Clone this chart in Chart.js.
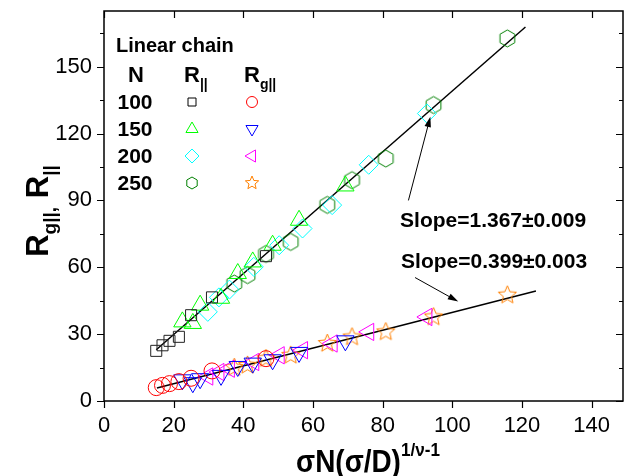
<!DOCTYPE html>
<html>
<head>
<meta charset="utf-8">
<script src="https://cdn.jsdelivr.net/npm/chart.js@4.4.1/dist/chart.umd.min.js"></script>
<style>
  html, body { margin: 0; padding: 0; background: #fff; }
  #wrap { width: 634px; height: 476px; }
</style>
</head>
<body>
<div id="wrap"><canvas id="chart" width="634" height="476"></canvas></div>
<script>
// tick labels
const xTicks = [0, 20, 40, 60, 80, 100, 120, 140];
const yTicks = [0, 30, 60, 90, 120, 150];
const chainN = ['100', '150', '200', '250'];

// x values per chain length N
const x100 = [15, 16.8, 18.8, 21.5, 25, 31, 46.5];
const x150 = [22.5, 25.5, 27.6, 33.6, 38.4, 42.7, 48.4, 56, 69.3];
const x200 = [29.8, 33, 36, 43, 50.3, 57, 65.5, 76, 92.7];
const x250 = [37.4, 41.2, 46.5, 53.6, 64.1, 71.2, 80.9, 94.6, 115.8];

// R|| values
const rPar100 = [22.5, 25, 27, 28.8, 38.5, 46.5, 65];
const rPar150 = [35.5, 34.8, 43, 46.1, 57.2, 62.4, 69.9, 81.1, 96.5];
const rPar200 = [40, 46.5, 50, 60.2, 69.9, 77.4, 87.9, 106, 129];
const rPar250 = [52.7, 56.5, 66, 71.4, 88, 99.1, 108.8, 132.8, 162.7];

// Rg|| values
const rg100 = [6.0, 7.0, 7.8, 8.7, 10.2, 13.5, 19];
const rg150 = [9.5, 8.2, 10, 11.5, 15.5, 17, 18.5, 21.8, 27];
const rg200 = [11, 13, 14.5, 17.5, 20.5, 22.8, 25.8, 31, 37.7];
const rg250 = [15, 16, 19, 20.5, 25.8, 28.7, 31, 37.7, 47.5];

// linear fits, end points
const fitParX = [15, 121];
const fitParY = [23, 167.8];
const fitGX = [15.2, 124];
const fitGY = [5.8, 49.4];
const slopeTexts = ['Slope=1.367\u00B10.009', 'Slope=0.399\u00B10.003'];
const slopeAt = [[111.7, 80.8], [112, 62.4]];
const arrows = [[[87.4, 90], [93.7, 127.6]], [[89.3, 55.4], [101.7, 44.6]]];

function pts(xs, ys) { return xs.map((x, i) => ({ x: x, y: ys[i] })); }

function shapeCanvas(kind, r, color) {
  const c = document.createElement('canvas');
  const s = Math.ceil(r * 2 + 4);
  c.width = s; c.height = s;
  const g = c.getContext('2d');
  g.strokeStyle = color;
  g.lineWidth = 1;
  pathShape(g, kind, s / 2, s / 2, r);
  g.stroke();
  return c;
}

function pathShape(g, kind, cx, cy, r) {
  g.beginPath();
  if (kind === 'hex') {
    for (let i = 0; i < 6; i++) {
      const a = Math.PI / 3 * i;
      const px = cx + Math.sin(a) * r, py = cy - Math.cos(a) * r;
      i ? g.lineTo(px, py) : g.moveTo(px, py);
    }
  } else if (kind === 'star') {
    for (let i = 0; i < 10; i++) {
      const a = Math.PI / 5 * i;
      const rr = i % 2 ? r * 0.45 : r;
      const px = cx + Math.sin(a) * rr, py = cy - Math.cos(a) * rr;
      i ? g.lineTo(px, py) : g.moveTo(px, py);
    }
  }
  g.closePath();
}

const hexImg = shapeCanvas('hex', 8.5, '#008000');
const starImg = shapeCanvas('star', 9.5, '#ff8000');

function ds(data, color, style, r, rot) {
  return {
    type: 'scatter', data: data, borderColor: color, backgroundColor: 'rgba(0,0,0,0)',
    pointStyle: style, pointRadius: r, pointRotation: rot || 0, pointBorderWidth: 1,
    pointHoverRadius: r
  };
}

function lineDs(xs, ys) {
  return {
    type: 'line', data: pts(xs, ys), borderColor: '#000', borderWidth: 1.5,
    pointRadius: 0, showLine: true, fill: false
  };
}

// legend, annotations, axis titles and frame
function runs(ctx, x, y, list, align) {
  let w = 0;
  list.forEach(r => { ctx.font = r.f; w += ctx.measureText(r.t).width; });
  let cx = align === 'center' ? x - w / 2 : x;
  list.forEach(r => {
    ctx.font = r.f;
    ctx.fillText(r.t, cx, y + (r.dy || 0));
    cx += ctx.measureText(r.t).width;
  });
}

function legendMark(ctx, kind, x, y, color) {
  ctx.save();
  ctx.strokeStyle = color;
  ctx.lineWidth = 1;
  ctx.beginPath();
  if (kind === 'sq') ctx.rect(x - 4, y - 4, 8, 8);
  else if (kind === 'circ') ctx.arc(x, y, 5.5, 0, Math.PI * 2);
  else if (kind === 'dia') { ctx.moveTo(x, y - 7); ctx.lineTo(x + 7, y); ctx.lineTo(x, y + 7); ctx.lineTo(x - 7, y); ctx.closePath(); }
  else if (kind === 'up' || kind === 'down' || kind === 'left') {
    const rot = { up: 0, down: Math.PI, left: -Math.PI / 2 }[kind];
    for (let i = 0; i < 3; i++) {
      const a = rot + i * 2 * Math.PI / 3;
      const px = x + Math.sin(a) * 7, py = y - Math.cos(a) * 7;
      i ? ctx.lineTo(px, py) : ctx.moveTo(px, py);
    }
    ctx.closePath();
  } else if (kind === 'hex' || kind === 'star') {
    pathShape(ctx, kind, x, y, kind === 'hex' ? 6 : 7);
  }
  ctx.stroke();
  ctx.restore();
}

const FONT = '"Liberation Sans", Arial, sans-serif';

const decor = {
  id: 'decor',
  afterDraw(chart) {
    const ctx = chart.ctx;
    const a = chart.chartArea;
    const xs = chart.scales.x, ys = chart.scales.y;
    ctx.save();
    // frame
    ctx.strokeStyle = '#000';
    ctx.lineWidth = 1.5;
    ctx.strokeRect(a.left, a.top, a.right - a.left, a.bottom - a.top);
    ctx.lineWidth = 1.2;
    ctx.beginPath();
    for (let v = 0; v <= ys.max; v += 15) {
      const p = Math.round(ys.getPixelForValue(v)) + 0.5;
      const len = v % 30 === 0 ? 7 : 4;
      ctx.moveTo(a.left, p); ctx.lineTo(a.left - len, p);
      ctx.moveTo(a.right, p); ctx.lineTo(a.right - len, p);
    }
    xTicks.forEach(v => {
      const p = Math.round(xs.getPixelForValue(v)) + 0.5;
      ctx.moveTo(p, a.bottom); ctx.lineTo(p, a.bottom + 7);
      ctx.moveTo(p, a.top); ctx.lineTo(p, a.top + 7);
    });
    ctx.stroke();

    // arrows
    ctx.fillStyle = '#000';
    ctx.lineWidth = 1;
    arrows.forEach(ar => {
      const x0 = xs.getPixelForValue(ar[0][0]), y0 = ys.getPixelForValue(ar[0][1]);
      const x1 = xs.getPixelForValue(ar[1][0]), y1 = ys.getPixelForValue(ar[1][1]);
      const ang = Math.atan2(y1 - y0, x1 - x0);
      ctx.beginPath();
      ctx.moveTo(x0, y0); ctx.lineTo(x1 - Math.cos(ang) * 8, y1 - Math.sin(ang) * 8);
      ctx.stroke();
      ctx.beginPath();
      ctx.moveTo(x1, y1);
      ctx.lineTo(x1 - Math.cos(ang - 0.3) * 11, y1 - Math.sin(ang - 0.3) * 11);
      ctx.lineTo(x1 - Math.cos(ang + 0.3) * 11, y1 - Math.sin(ang + 0.3) * 11);
      ctx.closePath();
      ctx.fill();
    });

    // slope texts
    ctx.textBaseline = 'middle';
    ctx.textAlign = 'center';
    ctx.font = 'bold 21px ' + FONT;
    slopeTexts.forEach((t, i) => {
      ctx.fillText(t, xs.getPixelForValue(slopeAt[i][0]), ys.getPixelForValue(slopeAt[i][1]));
    });

    // legend
    const B = 'bold 20px ' + FONT;
    const BL = 'bold 22px ' + FONT;
    const BS = 'bold 14px ' + FONT;
    ctx.textAlign = 'left';
    ctx.font = B;
    ctx.fillText('Linear chain', 116, 46);
    ctx.textAlign = 'center';
    ctx.font = BL;
    ctx.fillText('N', 136, 76);
    ctx.textAlign = 'left';
    runs(ctx, 184, 76, [{ t: 'R', f: BL }, { t: '||', f: BS, dy: 9 }], 'left');
    runs(ctx, 244, 76, [{ t: 'R', f: BL }, { t: 'g||', f: BS, dy: 9 }], 'left');
    const rowsY = [102, 129, 156, 183];
    const leftKinds = [['sq', '#000'], ['up', '#00ff00'], ['dia', '#00ffff'], ['hex', '#008000']];
    const rightKinds = [['circ', '#ff0000'], ['down', '#0000ff'], ['left', '#ff00ff'], ['star', '#ff8000']];
    chainN.forEach((n, i) => {
      ctx.textAlign = 'center';
      ctx.font = 'bold 21px ' + FONT;
      ctx.fillStyle = '#000';
      ctx.fillText(n, 135, rowsY[i] + 1);
      legendMark(ctx, leftKinds[i][0], 192, rowsY[i], leftKinds[i][1]);
      legendMark(ctx, rightKinds[i][0], 252, rowsY[i], rightKinds[i][1]);
    });

    // axis titles
    ctx.fillStyle = '#000';
    ctx.textAlign = 'left';
    ctx.textBaseline = 'alphabetic';
    const T = 'bold 31px ' + FONT;
    const TS = 'bold 19px ' + FONT;
    ctx.save();
    ctx.translate(368, 472);
    ctx.scale(0.9, 1);
    runs(ctx, 0, 0, [{ t: '\u03C3N(\u03C3/D)', f: T }, { t: '1/\u03BD-1', f: TS, dy: -16 }], 'center');
    ctx.restore();
    ctx.translate(48, 211);
    ctx.rotate(-Math.PI / 2);
    runs(ctx, 0, 0, [{ t: 'R', f: T }, { t: 'g||,', f: TS, dy: 8 }, { t: ' R', f: T }, { t: '||', f: TS, dy: 8 }], 'center');
    ctx.restore();
  }
};

new Chart(document.getElementById('chart'), {
  type: 'scatter',
  data: {
    datasets: [
      ds(pts(x100, rPar100), '#222222', 'rect', 7.8),
      ds(pts(x150, rPar150), '#00ff00', 'triangle', 10),
      ds(pts(x200, rPar200), '#00ffff', 'rectRot', 9.5),
      ds(pts(x250, rPar250), '#008000', hexImg, 9),
      ds(pts(x100, rg100), '#ff0000', 'circle', 8),
      ds(pts(x150, rg150), '#0000ff', 'triangle', 10, 180),
      ds(pts(x200, rg200), '#ff00ff', 'triangle', 10, -90),
      ds(pts(x250, rg250), '#ff8000', starImg, 10),
      lineDs(fitParX, fitParY),
      lineDs(fitGX, fitGY)
    ]
  },
  options: {
    responsive: false,
    animation: false,
    devicePixelRatio: 1,
    layout: { padding: { left: 0, right: 7, top: 10, bottom: 0 } },
    plugins: { legend: { display: false }, tooltip: { enabled: false } },
    scales: {
      x: {
        type: 'linear', min: 0, max: 149,
        grid: { display: false, drawTicks: false }, border: { display: false },
        afterBuildTicks: s => { s.ticks = xTicks.map(v => ({ value: v })); },
        afterFit: s => { s.height = 75; s.paddingLeft = 0; s.paddingRight = 0; },
        ticks: { color: '#000', padding: 12, maxRotation: 0, font: { family: FONT, size: 22 } }
      },
      y: {
        type: 'linear', min: 0, max: 175,
        grid: { display: false, drawTicks: false }, border: { display: false },
        afterBuildTicks: s => { s.ticks = yTicks.map(v => ({ value: v })); },
        afterFit: s => { s.width = 104; s.paddingTop = 0; s.paddingBottom = 0; },
        ticks: { color: '#000', padding: 12, font: { family: FONT, size: 22 } }
      }
    }
  },
  plugins: [decor]
});
</script>
</body>
</html>
